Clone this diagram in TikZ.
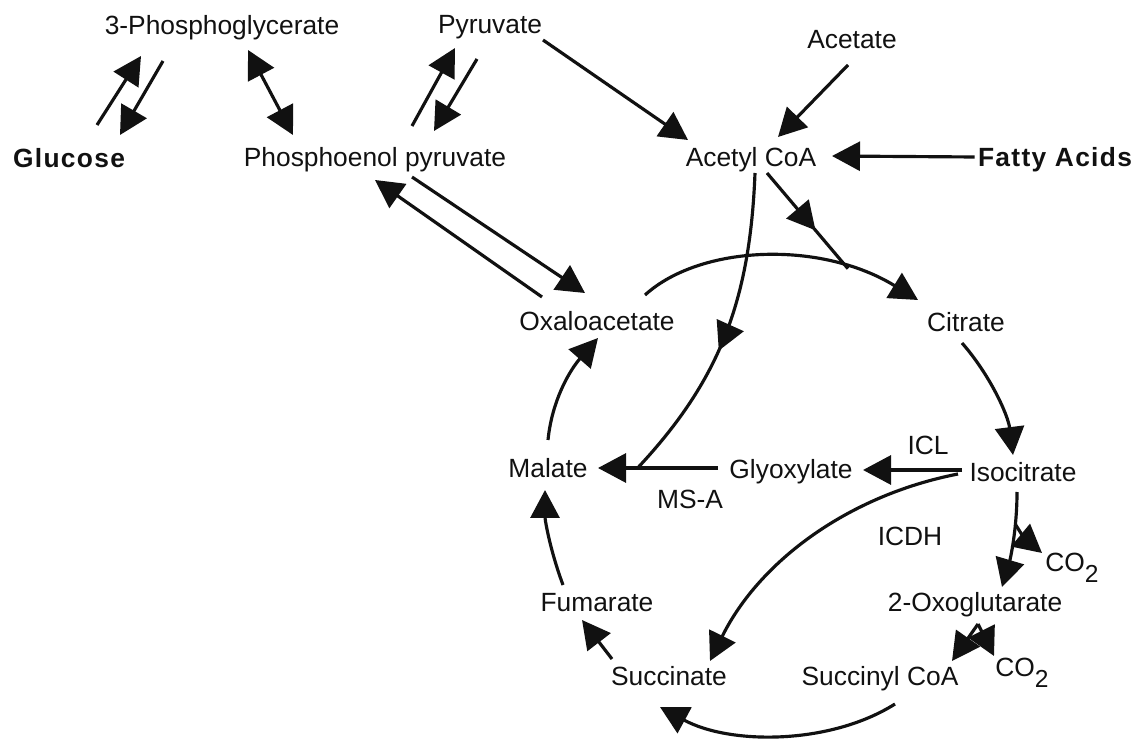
\documentclass[tikz,border=0pt]{standalone}
\usepackage{fontspec}
\setmainfont{Liberation Sans}
\usepackage{tikz}
\usetikzlibrary{arrows.meta,calc,decorations.markings}
\definecolor{inkblack}{HTML}{111111}
\tikzset{
  >={Triangle[length=5.6mm,width=5.8mm]},
  met/.style={font=\fontsize{15}{18}\selectfont, text=inkblack, inner sep=0pt,
              text height=11pt, text depth=0pt},
  metb/.style={met, font=\fontsize{15}{18}\selectfont\bfseries\addfontfeatures{LetterSpace=5}},
  enz/.style={met},
  rxn/.style={->, draw=inkblack, line width=1.8pt},
  both/.style={rxn, <->},
  midtip/.style={draw=inkblack, line width=1.8pt, postaction={decorate},
                 decoration={markings, mark=at position #1 with {\arrow{>}}}},
}
\newcommand{\cotwo}{CO\raisebox{-6pt}{\fontsize{14}{14}\selectfont 2}}

\begin{document}
\begin{tikzpicture}[x=0.02cm,y=-0.02cm]
\useasboundingbox (0,0) rectangle (1145,742);
% metabolites
\node[met] (pga) at (222,25) {3-Phosphoglycerate};
\node[met] (pyr) at (490,24) {Pyruvate};
\node[met] (ace) at (852,39) {Acetate};
\node[metb] (glc) at (69,158) {Glucose};
\node[met] (pep) at (375,157) {Phosphoenol pyruvate};
\node[met] (acoa) at (751,157) {Acetyl CoA};
\node[metb] (fa) at (1055,157) {Fatty Acids};
\node[met] (oaa) at (597,321) {Oxaloacetate};
\node[met] (cit) at (966,322) {Citrate};
\node[met] (mal) at (548,468) {Malate};
\node[met] (gly) at (791,469) {Glyoxylate};
\node[met] (ici) at (1023,472) {Isocitrate};
\node[met] (ogl) at (975,602) {2-Oxoglutarate};
\node[met] (fum) at (597,602) {Fumarate};
\node[met] (suc) at (669,676) {Succinate};
\node[met] (scoa) at (880,676) {Succinyl CoA};
\node[met,anchor=west] (co2a) at (1045,562) {\cotwo};
\node[met,anchor=west] (co2b) at (995,667) {\cotwo};
% enzymes
\node[enz] (icl) at (928,445) {ICL};
\node[enz] (msa) at (690,499) {MS-A};
\node[enz] (icdh) at (910,536) {ICDH};
% upper part
\draw[rxn] ($(glc)+(28,-33)$) -- ($(pga)+(-81,31)$);
\draw[rxn] ($(pga)+(-59,36)$) -- ($(glc)+(51,-23)$);
\draw[both] ($(pga)+(26,25)$) -- ($(pep)+(-82,-22)$);
\draw[rxn] ($(pep)+(37,-31)$) -- ($(pyr)+(-35,24)$);
\draw[rxn] ($(pyr)+(-13,35)$) -- ($(pep)+(59,-26)$);
\draw[rxn] ($(pyr)+(53,16)$) -- ($(acoa)+(-63,-17)$);
\draw[rxn] ($(ace)+(-4,26)$) -- ($(acoa)+(27,-20)$);
\draw[rxn] ($(fa.west)+(-3,0)$) -- ($(acoa)+(81,-1)$);
\draw[rxn] ($(pep)+(37,20)$) -- ($(oaa)+(-12,-28)$);
\draw[rxn] ($(oaa)+(-55,-24)$) -- ($(pep)+(0,23)$);
% cycle and shunt
\draw[rxn] ($(oaa)+(48,-26)$) .. controls (700,245) and (820,240) .. coordinate[pos=0.77] (jc) ($(cit)+(-48,-22)$);
\draw[midtip=0.6] ($(acoa)+(16,16)$) -- (jc);
\draw[rxn] ($(cit)+(-4,21)$) .. controls (990,375) and (1008,415) .. ($(ici)+(-10,-17)$);
\draw[rxn] ($(ici)+(-61,-2)$) -- ($(gly)+(72,1)$);
\draw[rxn] ($(gly)+(-73,-1)$) -- coordinate[pos=0.67] (jm) ($(mal)+(50,0)$);
\draw[midtip=0.56] ($(acoa)+(4,16)$) .. controls (750,300) and (720,380) .. (jm);
\draw[rxn] ($(ici)+(-65,2)$) .. controls (850,495) and (760,560) .. ($(suc)+(41,-15)$);
\draw[rxn] ($(ici)+(-6,20)$) .. controls (1017,530) and (1010,560) .. coordinate[pos=0.3] (jb) ($(ogl)+(27,-15)$);
\draw[rxn] (jb) .. controls (1024,538) .. ($(co2a.west)+(-3,-9)$);
\draw[rxn] ($(ogl)+(3,22)$) coordinate (jo) -- ($(scoa)+(72,-15)$);
\draw[rxn] (jo) -- ($(co2b.west)+(-1,-11)$);
\draw[rxn] ($(scoa)+(15,28)$) .. controls (830,745) and (730,745) .. ($(suc)+(-9,31)$);
\draw[rxn] ($(suc)+(-57,-17)$) -- ($(fum)+(-15,18)$);
\draw[rxn] ($(fum)+(-34,-17)$) .. controls (550,550) and (545,520) .. ($(mal)+(-3,22)$);
\draw[rxn] ($(mal)+(0,-28)$) .. controls (552,400) and (570,370) .. ($(oaa)+(1,17)$);
\end{tikzpicture}
\end{document}
